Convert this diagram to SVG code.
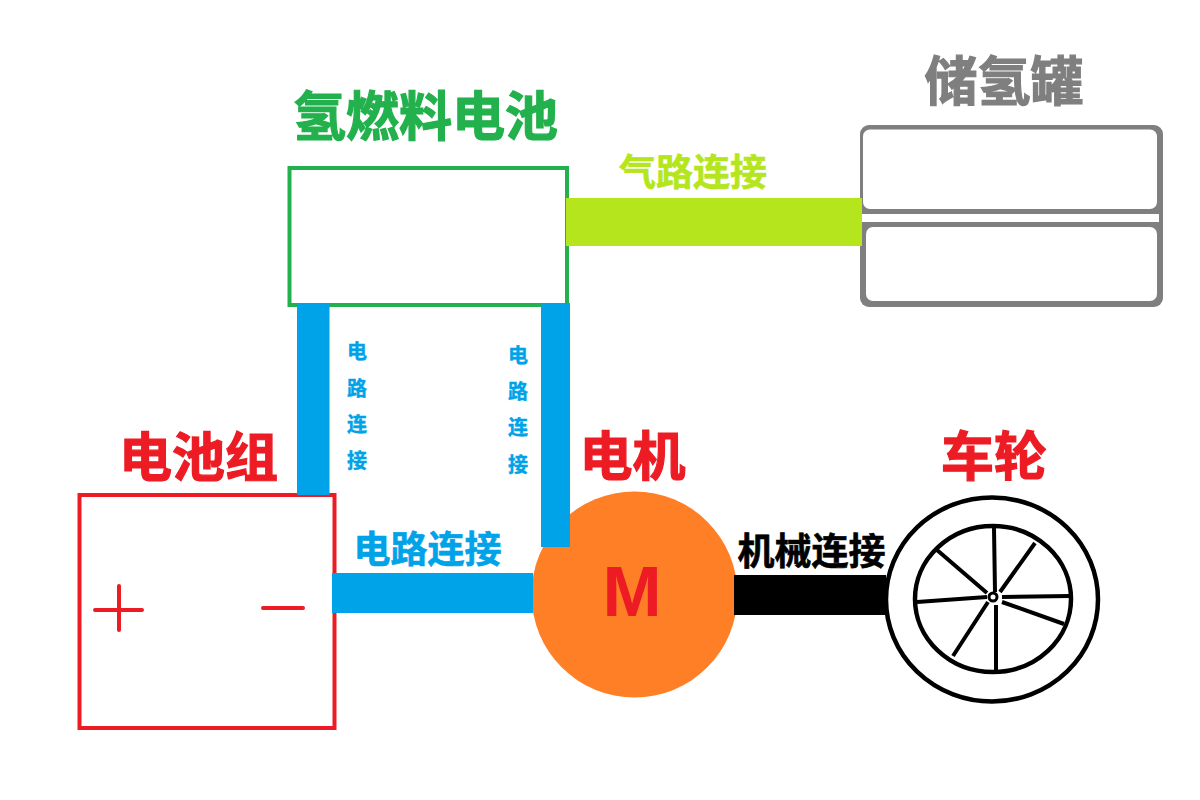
<svg xmlns="http://www.w3.org/2000/svg" width="1200" height="800" viewBox="0 0 1200 800">
<style>
text{font-family:"Noto Sans CJK SC","Noto Sans",sans-serif;font-weight:700;text-anchor:middle}
.t{font-size:53px;stroke-width:1.200px}
.m{font-size:37px;stroke-width:.6px}
.s{font-size:20px;fill:#00a2e8;stroke:#00a2e8;stroke-width:.4px}
.red{fill:#ed1c24;stroke:#ed1c24}
.blue{fill:#00a2e8}
.sp{stroke:#000;stroke-width:4;fill:none}
.rl{stroke:#ed1c24;stroke-width:4;stroke-linecap:round}
</style>
<rect width="1200" height="800" fill="#fff"/>
<g id="fuel-cell">
<rect x="289.500" y="168" width="277.500" height="137" fill="none" stroke="#22b14c" stroke-width="4"/>
<text class="t" x="425.500" y="136" fill="#22b14c" stroke="#22b14c">氢燃料电池</text>
</g>
<g id="tank">
<rect x="860" y="125" width="303" height="182" rx="9" fill="#7f7f7f"/>
<path d="M860 214H1159V222H860Z" fill="#fff"/>
<rect x="863" y="129.500" width="294" height="79.500" rx="7" fill="#fff"/>
<rect x="866" y="227" width="291" height="74" rx="7" fill="#fff"/>
<text class="t" x="1004" y="101" fill="#7f7f7f" stroke="#7f7f7f">储氢罐</text>
</g>
<g id="battery">
<rect x="79.500" y="495" width="255" height="233" fill="none" stroke="#ed1c24" stroke-width="4"/>
<path class="rl" d="M95 610H142M119 586V630M263 608H303"/>
<text class="t red" x="198.500" y="477">电池组</text>
</g>
<g id="motor">
<circle cx="634.500" cy="594.500" r="103" fill="#ff7f27"/>
<text x="632" y="616" style="font-family:'Liberation Sans',sans-serif;font-size:71px" fill="#ed1c24">M</text>
<text class="t red" x="632.500" y="476">电机</text>
</g>
<g id="wheel">
<ellipse cx="992" cy="599.500" rx="106" ry="102" fill="#fff" stroke="#000" stroke-width="4.500"/>
<ellipse cx="993" cy="599" rx="78" ry="73" fill="none" stroke="#000" stroke-width="4.500"/>
<path class="sp" d="M994 528L995 592M1035 543L1000 592M1002 597L1070 596M1002 602L1064 624M996 605V673M988 602L953 656M987 597L917 602M937 550L987 593"/>
<circle cx="993" cy="597" r="4" fill="#fff" stroke="#000" stroke-width="3"/>
<text class="t red" x="994" y="476">车轮</text>
</g>
<g id="connectors">
<rect x="566" y="198" width="296" height="48" fill="#b5e61d"/>
<rect class="blue" x="297" y="303" width="32.500" height="192"/>
<rect class="blue" x="541" y="303" width="29" height="244"/>
<rect class="blue" x="332" y="573" width="201" height="40"/>
<rect x="734" y="575" width="152" height="40" fill="#000"/>
</g>
<g id="labels">
<text class="m" x="693" y="186" fill="#b5e61d" stroke="#b5e61d">气路连接</text>
<text class="m blue" x="427.500" y="563" stroke="#00a2e8">电路连接</text>
<text class="m" x="811.500" y="565" fill="#000" stroke="#000">机械连接</text>
<text class="s" x="357" y="359">电</text>
<text class="s" x="357" y="396">路</text>
<text class="s" x="357" y="432">连</text>
<text class="s" x="357" y="468">接</text>
<text class="s" x="518" y="363">电</text>
<text class="s" x="518" y="399">路</text>
<text class="s" x="518" y="435">连</text>
<text class="s" x="518" y="472">接</text>
</g>
</svg>
